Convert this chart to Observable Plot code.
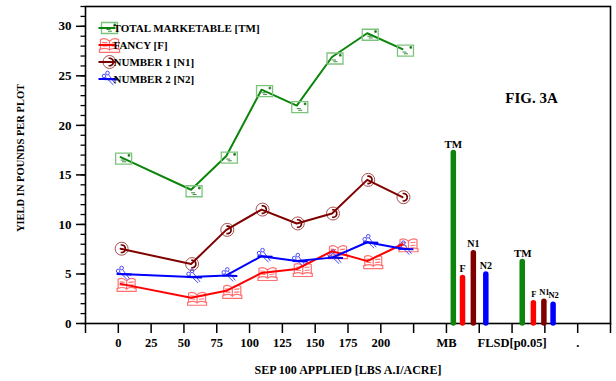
<!DOCTYPE html>
<html>
<head>
<meta charset="utf-8">
<script src="https://cdn.jsdelivr.net/npm/d3@7"></script>
<script src="https://cdn.jsdelivr.net/npm/@observablehq/plot@0.6"></script>
<style>
  body { margin: 0; background: #fff; }
  #chart svg { display: block; }
</style>
</head>
<body>
<div id="chart"></div>
<script>
// SEP 100 rates (lbs a.i./acre) and yields (lbs per plot)
const doses = [0, 50, 75, 100, 125, 150, 175, 200];
const totalMarketable = [16.8, 13.5, 16.9, 23.6, 22.0, 26.9, 29.3, 27.7];
const fancy = [4.0, 2.6, 3.3, 5.1, 5.5, 7.3, 6.3, 8.0];
const number1 = [7.55, 6.0, 9.45, 11.5, 10.1, 11.1, 14.5, 12.75];
const number2 = [5.0, 4.7, 4.85, 6.8, 6.3, 6.65, 8.2, 7.55];

const seriesKeys = ["TM", "F", "N1", "N2"];
const seriesNames = ["TOTAL MARKETABLE [TM]", "FANCY [F]", "NUMBER 1 [N1]", "NUMBER 2 [N2]"];
const seriesColors = ["#0b850b", "#ff0000", "#800000", "#0000ff"];

// Methyl bromide standard and Fisher's LSD (p = 0.05)
const mbValues = [17.2, 4.6, 7.1, 4.95];
const flsdValues = [6.2, 2.05, 2.2, 1.9];

// Category axis: one slot per tick
const xTickLabels = ["", "0", "25", "50", "75", "100", "125", "150", "175", "200", "", "MB", "", "FLSD[p0.05]", "", ".", ""];

// ---- layout helpers ----
const FONT = "'Liberation Serif', 'Times New Roman', serif";
const doseSlot = d3.scaleLinear([0, 200], [1.07, 9.66]);
const mbSlot = 11, flsdSlot = 13;
const mbOffsets = [0.21, 0.49, 0.82, 1.2];
const flsdOffsets = [0.31, 0.65, 0.97, 1.25];

const seriesValues = [totalMarketable, fancy, number1, number2];
const points = seriesValues.flatMap((vals, s) =>
  vals.map((v, i) => ({key: seriesKeys[s], dose: doses[i], value: v})));
const bars = [
  ...mbValues.map((v, i) => ({key: seriesKeys[i], slot: mbSlot + mbOffsets[i], value: v, color: seriesColors[i], group: "MB"})),
  ...flsdValues.map((v, i) => ({key: seriesKeys[i], slot: flsdSlot + flsdOffsets[i], value: v, color: seriesColors[i], group: "FLSD"}))
];

// ---- marker glyphs (custom symbol types, drawn at r = 8) ----
const unit = size => Math.sqrt(size / Math.PI) / 8;
const envelope = {draw(c, size) { const k = unit(size); c.rect(-8 * k, -5.5 * k, 16 * k, 11 * k); }};
const envelopeMarks = {draw(c, size) {
  const k = unit(size);
  c.rect(4.5 * k, -4 * k, 1.6 * k, 1.6 * k);
  c.moveTo(-3 * k, 1.5 * k); c.lineTo(1 * k, 1.5 * k);
  c.moveTo(-1.5 * k, 3.2 * k); c.lineTo(2.5 * k, 3.2 * k);
}};
const book = {draw(c, size) {
  const k = unit(size);
  for (const s of [-1, 1]) {
    c.moveTo(0, -3.5 * k);
    c.quadraticCurveTo(s * 4 * k, -7.5 * k, s * 8.5 * k, -5 * k);
    c.lineTo(s * 8.5 * k, 4 * k);
    c.quadraticCurveTo(s * 4 * k, 2 * k, 0, 4.5 * k);
    c.closePath();
    c.moveTo(s * 2 * k, -2 * k); c.lineTo(s * 7 * k, -2.5 * k);
    c.moveTo(s * 2 * k, 1 * k); c.lineTo(s * 7 * k, 0.5 * k);
  }
  c.moveTo(-9.5 * k, 3.5 * k); c.lineTo(-9.5 * k, 7 * k); c.lineTo(9.5 * k, 7 * k); c.lineTo(9.5 * k, 3.5 * k);
}};
const phoneRing = {draw(c, size) { const k = unit(size); c.moveTo(6.5 * k, 0); c.arc(0, 0, 6.5 * k, 0, 2 * Math.PI); }};
const phoneHandset = {draw(c, size) {
  const k = unit(size);
  const a0 = -Math.PI * 0.45, a1 = Math.PI * 0.45;
  c.moveTo(3.8 * k * Math.cos(a0) - 1.5 * k, 3.8 * k * Math.sin(a0));
  c.arc(0, 0, 3.8 * k, a0, a1);
  c.lineTo(-1.5 * k + 3.8 * k * Math.cos(a1), 3.8 * k * Math.sin(a1));
}};
const scissors = {draw(c, size) {
  const k = unit(size);
  c.moveTo(-0.2 * k, -6 * k); c.arc(-2 * k, -6 * k, 1.8 * k, 0, 2 * Math.PI);
  c.moveTo(-3.7 * k, -3 * k); c.arc(-5.5 * k, -3 * k, 1.8 * k, 0, 2 * Math.PI);
  c.moveTo(-1 * k, -4.3 * k); c.lineTo(6 * k, 5 * k);
  c.moveTo(-4 * k, -1.8 * k); c.lineTo(4 * k, 6 * k);
}};
const scissorsBar = {draw(c, size) { const k = unit(size); c.moveTo(-7 * k, 0); c.lineTo(8 * k, 0.5 * k); }};
const dash = {draw(c, size) { const k = unit(size); c.moveTo(-8.5 * k, 0); c.lineTo(8.5 * k, 0); }};

const markerSpecs = {
  TM: [{symbol: envelope, stroke: "#7cc47c", strokeWidth: 1.3, fill: "none"},
       {symbol: envelopeMarks, stroke: "#2a7a2a", strokeWidth: 0.9, fill: "#1a6a1a"}],
  F:  [{symbol: book, stroke: "#ff7070", strokeWidth: 1.2, fill: "none"}],
  N1: [{symbol: phoneRing, stroke: "#a85050", strokeWidth: 1, fill: "none"},
       {symbol: phoneHandset, stroke: "#700000", strokeWidth: 1.6, fill: "none"}],
  N2: [{symbol: scissors, stroke: "#4a4aff", strokeWidth: 1, fill: "none"},
       {symbol: scissorsBar, stroke: "#0000ee", strokeWidth: 2, fill: "none"}]
};
const markerShift = {TM: [3, 1.5], F: [6, 0.5], N1: [1, 0], N2: [3, 0]};

const markerLayers = (data, extra = {}) => seriesKeys.flatMap(key =>
  markerSpecs[key].map(spec => Plot.dot(data.filter(d => d.key === key), {
    x: d => doseSlot(d.dose), y: "value", r: 8,
    dx: markerShift[key][0], dy: markerShift[key][1], ...spec, ...extra
  })));

// ---- legend (inside the frame, top-left) ----
const legendMarks = seriesKeys.flatMap((key, i) => {
  const dy = 21.5 + 17 * i;
  const at = {frameAnchor: "top-left", dy};
  return [
    ...markerSpecs[key].map(spec => Plot.dot([key], {...at, dx: 24, r: key === "F" ? 8.5 : 8, ...spec})),
    Plot.dot([key], {...at, dx: 21.5, r: 8, symbol: dash, stroke: seriesColors[i], strokeWidth: 2}),
    Plot.text([seriesNames[i]], {...at, dx: 28, text: d => d, textAnchor: "start", lineAnchor: "middle", fontSize: 11, fontWeight: "bold", fill: "black"})
  ];
});

const chart = Plot.plot({
  width: 616,
  height: 381,
  marginLeft: 85,
  marginRight: 6,
  marginTop: 6,
  marginBottom: 58,
  style: {fontFamily: FONT, fontWeight: "bold", color: "black", background: "white"},
  x: {type: "linear", domain: [0, 16]},
  y: {domain: [0, 32]},
  marks: [
    Plot.frame({stroke: "black", strokeWidth: 1.6}),
    // minor and major ticks on the yield axis
    Plot.axisY({ticks: d3.range(0, 33), tickSize: 4.5, text: null, label: null, strokeWidth: 1.3}),
    Plot.axisY({ticks: d3.range(0, 31, 5), tickSize: 9, tickPadding: 5, label: null, fontSize: 13, strokeWidth: 1.5}),
    Plot.axisX({ticks: d3.range(0, 17), tickSize: 10, tickPadding: 5, tickFormat: i => xTickLabels[i], label: null, fontSize: 12.5, strokeWidth: 1.5}),
    // MB and FLSD columns
    Plot.ruleX(bars, {x: "slot", y1: 0, y2: "value", stroke: "color", strokeWidth: 5.5, strokeLinecap: "round"}),
    Plot.text(bars.filter(d => d.group === "MB"), {x: "slot", y: "value", text: "key", dy: -9, fontSize: d => d.key === "TM" ? 11 : 10, fontWeight: "bold", fill: "black"}),
    Plot.text(bars.filter(d => d.group === "FLSD"), {x: "slot", y: "value", text: "key", dy: -9, dx: 0.5, fontSize: d => d.key === "TM" ? 11 : 8.5, fontWeight: "bold", fill: "black"}),
    // yield curves
    ...markerLayers(points.filter(d => d.key !== "TM")),
    ...seriesKeys.map((key, i) => Plot.line(points.filter(d => d.key === key), {
      x: d => doseSlot(d.dose), y: "value", stroke: seriesColors[i], strokeWidth: 2
    })),
    ...markerLayers(points.filter(d => d.key === "TM")),
    ...legendMarks,
    Plot.text(["FIG. 3A"], {frameAnchor: "top-right", dx: -79, dy: 92, textAnchor: "middle", lineAnchor: "middle", text: d => d, fontSize: 15, fontWeight: "bold", fill: "black"}),
    Plot.text(["SEP 100 APPLIED [LBS A.I/ACRE]"], {frameAnchor: "bottom", dy: 47, lineAnchor: "middle", text: d => d, fontSize: 12, fontWeight: "bold", fill: "black"}),
    Plot.text(["YIELD IN POUNDS PER PLOT"], {frameAnchor: "left", dx: -65, dy: -7, rotate: -90, textAnchor: "middle", lineAnchor: "middle", text: d => d, fontSize: 10.5, fontWeight: "bold", fill: "black"})
  ]
});

document.getElementById("chart").append(chart);
</script>
</body>
</html>
